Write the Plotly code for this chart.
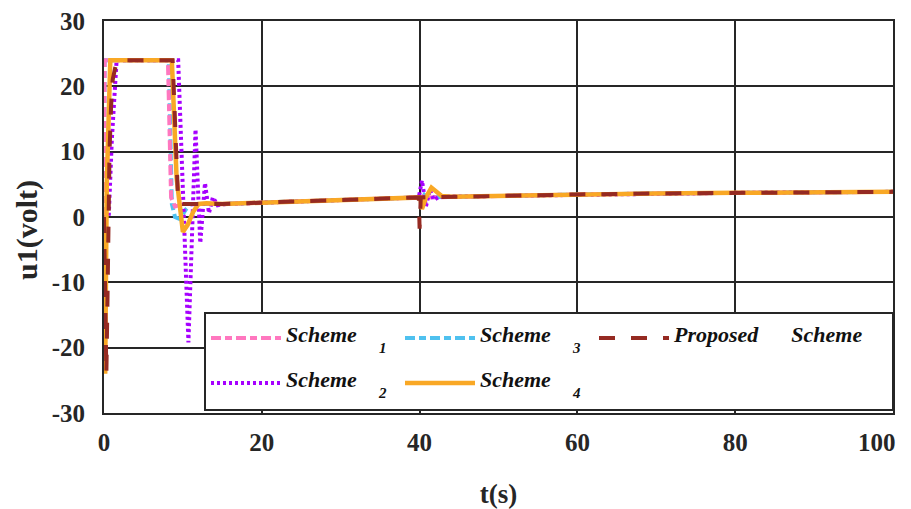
import plotly.graph_objects as go

# ---------------- data ----------------
t_s1 = [0, 0.08, 8.1, 8.5, 9.0, 10, 15, 20, 30, 39.9, 40.2, 40.6, 41, 50, 60, 70, 80, 90, 100]
u_s1 = [0, 24, 24, 3.0, 1.6, 2.0, 2.0, 2.2, 2.6, 3.0, 2.6, 3.4, 3.0, 3.25, 3.45, 3.6, 3.7, 3.8, 3.85]

t_s2 = [0, 0.6, 1.0, 1.6, 9.4, 10.7, 11.6, 12.2, 12.8, 13.3, 13.8, 14.4, 15.5, 20, 30, 39.9,
        40.3, 40.8, 41.3, 41.8, 42.5, 50, 60, 70, 80, 90, 100]
u_s2 = [0, 0, 12, 24, 24, -19.2, 13.4, -4.0, 5.2, 0.6, 3.0, 1.8, 2.0, 2.2, 2.6, 3.0,
        5.6, 1.6, 4.2, 2.6, 3.1, 3.25, 3.45, 3.6, 3.7, 3.8, 3.85]

t_s3 = [0, 0.08, 8.2, 8.6, 9.0, 9.6, 10.4, 11, 15, 20, 30, 39.9, 40.2, 40.6, 41, 50, 60, 70, 80, 90, 100]
u_s3 = [0, 24, 24, 2.0, 0.0, -0.3, 1.2, 2.0, 2.0, 2.2, 2.6, 3.0, 2.5, 3.4, 3.0, 3.25, 3.45, 3.6, 3.7, 3.8, 3.85]

t_s4 = [0, 0.15, 0.35, 0.6, 0.8, 8.6, 9.2, 10.0, 10.6, 11.3, 12.0, 13, 15, 20, 30, 40.1,
        40.3, 40.8, 41.5, 42.2, 42.8, 44, 50, 60, 70, 80, 90, 100]
u_s4 = [0, -24, 5, 20, 24, 24, 6, -2.3, -1.2, 0.8, 2.0, 2.1, 2.0, 2.2, 2.6, 3.0,
        1.2, 3.0, 4.5, 3.8, 3.2, 3.1, 3.25, 3.45, 3.6, 3.7, 3.8, 3.85]

t_prop = [0, 0.15, 0.3, 0.45, 0.55, 0.7, 0.9, 1.1, 1.5, 2.0, 8.7, 9.4, 10, 15, 20, 30, 39.9,
          40.0, 40.15, 40.3, 50, 60, 70, 80, 90, 100]
u_prop = [0, -12, -24, -12, 0, 10, 17, 21, 23.3, 24, 24, 2.2, 2.0, 2.0, 2.2, 2.6, 3.0,
          -1.8, 3.0, 3.0, 3.25, 3.45, 3.6, 3.7, 3.8, 3.85]

x_ticks = [0, 20, 40, 60, 80, 100]
x_ticktext = ["0", "20", "40", "60", "80", "100"]
y_ticks = [-30, -20, -10, 0, 10, 20, 30]
y_ticktext = ["-30", "-20", "-10", "0", "10", "20", "30"]

FONT = "Liberation Serif, Times New Roman, serif"
INK = "#262626"
NB = "\u00a0"


def label(base, sub="", tail=""):
    s = "<span style='font-size:22px;baseline-shift:8px'>" + base + NB * 4 + "</span>"
    if sub:
        s += "<span style='font-size:15px;baseline-shift:-3px'>" + sub + "</span>"
    if tail:
        s += "<span style='font-size:22px;baseline-shift:8px'>" + NB * 2 + tail + "</span>"
    return s


# the last x label sits inside the picture in the reference: draw it as a right-anchored
# annotation at its tick value, and leave the regular tick text for it empty
x_ticklabels = x_ticktext[:-1] + [""]

fig = go.Figure()

fig.add_trace(go.Scatter(x=t_s3, y=u_s3, mode="lines", name=label("Scheme", "3"),
                         line=dict(color="#4FC1EF", width=4, dash="10px,4px,7px,4px"),
                         legend="legend", legendrank=2))
fig.add_trace(go.Scatter(x=t_s1, y=u_s1, mode="lines", name=label("Scheme", "1"),
                         line=dict(color="#FF77BF", width=4, dash="10px,4px,7px,4px"),
                         legend="legend", legendrank=1))
fig.add_trace(go.Scatter(x=t_s2, y=u_s2, mode="lines", name=label("Scheme", "2"),
                         line=dict(color="#A600FF", width=4, dash="3px,3px"),
                         legend="legend2", legendrank=1))
fig.add_trace(go.Scatter(x=t_s4, y=u_s4, mode="lines", name=label("Scheme", "4"),
                         line=dict(color="#F9A825", width=4.5),
                         legend="legend2", legendrank=2))
fig.add_trace(go.Scatter(x=t_prop, y=u_prop, mode="lines", name=label("Proposed", "", "Scheme"),
                         line=dict(color="#952A22", width=4, dash="16px,16px"),
                         legend="legend3"))

L, R, T, B = 104, 18, 21, 96
W, H = 911, 509
pw, ph = W - L - R, H - T - B


def px_x(p):
    return (p - L) / pw


def px_y(p):
    return (H - B - p) / ph


legfont = dict(family=FONT, size=30, color="#111111", weight="bold", style="italic")
common_leg = dict(orientation="h", xanchor="left", yanchor="middle",
                  bgcolor="rgba(0,0,0,0)", borderwidth=0, font=legfont,
                  itemwidth=70, traceorder="normal", itemclick=False)

fig.update_layout(
    width=W, height=H,
    margin=dict(l=L, r=R, t=T, b=B, autoexpand=False),
    paper_bgcolor="white", plot_bgcolor="white",
    font=dict(family=FONT, color=INK),
    legend=dict(x=px_x(206), y=px_y(338), entrywidthmode="pixels", entrywidth=109, **common_leg),
    legend2=dict(x=px_x(206), y=px_y(383), entrywidthmode="pixels", entrywidth=109, **common_leg),
    legend3=dict(x=px_x(594), y=px_y(338), **common_leg),
    shapes=[dict(type="rect", xref="paper", yref="paper",
                 x0=px_x(205), x1=px_x(893), y0=px_y(410), y1=px_y(313),
                 line=dict(color=INK, width=2), fillcolor="white", layer="above")],
    annotations=[
        dict(text="u1(volt)", textangle=-90, xref="paper", yref="paper",
             x=px_x(27), y=px_y(230), xanchor="center", yanchor="middle",
             showarrow=False, font=dict(family=FONT, size=30, color=INK, weight="bold")),
        dict(text=x_ticktext[-1], xref="x", yref="paper", x=x_ticks[-1], xshift=5,
             y=px_y(442), xanchor="right", yanchor="middle", showarrow=False,
             font=dict(family=FONT, size=25, color=INK, weight="bold")),
    ],
)

fig.update_xaxes(range=[0, 100], tickvals=x_ticks, ticktext=x_ticklabels,
                 showgrid=True, gridcolor=INK, gridwidth=2,
                 zeroline=False, showline=True, linecolor=INK, linewidth=2, mirror=True,
                 ticks="", ticklabelstandoff=6,
                 tickfont=dict(family=FONT, size=25, color=INK, weight="bold"),
                 title=dict(text="t(s)", font=dict(family=FONT, size=27, color=INK, weight="bold"),
                            standoff=30))
fig.update_yaxes(range=[-30, 30], tickvals=y_ticks, ticktext=y_ticktext,
                 showgrid=True, gridcolor=INK, gridwidth=2,
                 zeroline=True, zerolinecolor=INK, zerolinewidth=2,
                 showline=True, linecolor=INK, linewidth=2, mirror=True,
                 ticks="", ticklabelstandoff=12,
                 tickfont=dict(family=FONT, size=25, color=INK, weight="bold"))

fig.write_html("out.html")
